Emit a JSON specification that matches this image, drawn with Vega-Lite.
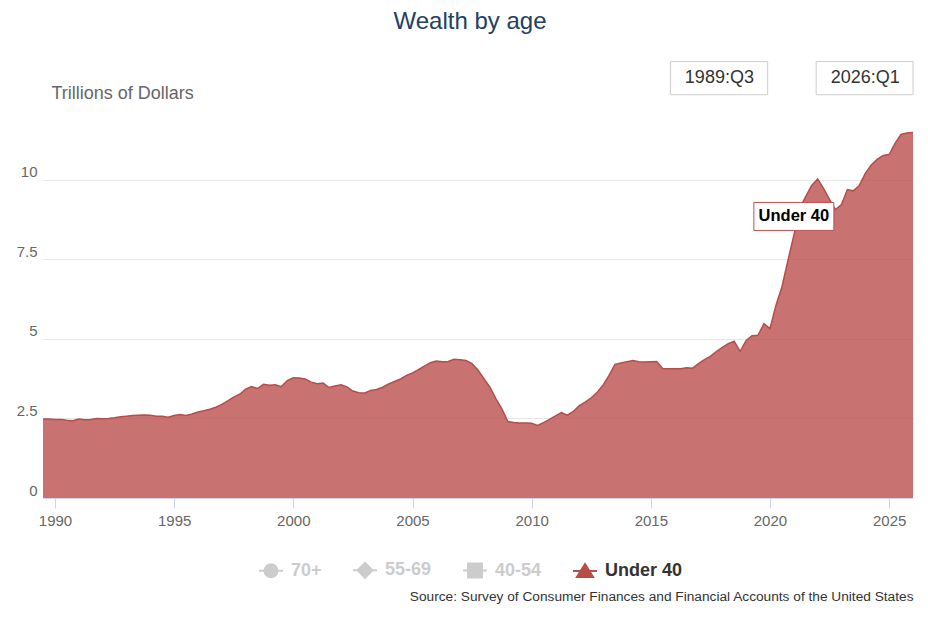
{
  "$schema": "https://vega.github.io/schema/vega-lite/v6.json",
  "width": 870,
  "height": 388,
  "autosize": "none",
  "padding": {"left": 43, "top": 110, "right": 15, "bottom": 119},
  "config": {"font": "Liberation Sans", "view": {"stroke": null}},
  "title": {
    "text": "Wealth by age",
    "frame": "group",
    "anchor": "middle",
    "baseline": "alphabetic",
    "offset": 8,
    "dx": -8,
    "fontSize": 24,
    "fontWeight": "normal",
    "color": "#23405f"
  },
  "datasets": {
    "wealth": [
      {"date": "1989-07-01", "value": 2.48}, {"date": "1989-10-01", "value": 2.48},
      {"date": "1990-01-01", "value": 2.47}, {"date": "1990-04-01", "value": 2.47},
      {"date": "1990-07-01", "value": 2.44}, {"date": "1990-10-01", "value": 2.43},
      {"date": "1991-01-01", "value": 2.48}, {"date": "1991-04-01", "value": 2.46},
      {"date": "1991-07-01", "value": 2.47}, {"date": "1991-10-01", "value": 2.50},
      {"date": "1992-01-01", "value": 2.49}, {"date": "1992-04-01", "value": 2.50},
      {"date": "1992-07-01", "value": 2.52}, {"date": "1992-10-01", "value": 2.55},
      {"date": "1993-01-01", "value": 2.57}, {"date": "1993-04-01", "value": 2.59},
      {"date": "1993-07-01", "value": 2.60}, {"date": "1993-10-01", "value": 2.61},
      {"date": "1994-01-01", "value": 2.60}, {"date": "1994-04-01", "value": 2.57},
      {"date": "1994-07-01", "value": 2.57}, {"date": "1994-10-01", "value": 2.54},
      {"date": "1995-01-01", "value": 2.59}, {"date": "1995-04-01", "value": 2.62},
      {"date": "1995-07-01", "value": 2.59}, {"date": "1995-10-01", "value": 2.64},
      {"date": "1996-01-01", "value": 2.70}, {"date": "1996-04-01", "value": 2.74},
      {"date": "1996-07-01", "value": 2.79}, {"date": "1996-10-01", "value": 2.85},
      {"date": "1997-01-01", "value": 2.94}, {"date": "1997-04-01", "value": 3.05},
      {"date": "1997-07-01", "value": 3.17}, {"date": "1997-10-01", "value": 3.26},
      {"date": "1998-01-01", "value": 3.42}, {"date": "1998-04-01", "value": 3.50},
      {"date": "1998-07-01", "value": 3.44}, {"date": "1998-10-01", "value": 3.57},
      {"date": "1999-01-01", "value": 3.54}, {"date": "1999-04-01", "value": 3.56},
      {"date": "1999-07-01", "value": 3.50}, {"date": "1999-10-01", "value": 3.69},
      {"date": "2000-01-01", "value": 3.78}, {"date": "2000-04-01", "value": 3.77},
      {"date": "2000-07-01", "value": 3.74}, {"date": "2000-10-01", "value": 3.64},
      {"date": "2001-01-01", "value": 3.59}, {"date": "2001-04-01", "value": 3.61},
      {"date": "2001-07-01", "value": 3.47}, {"date": "2001-10-01", "value": 3.52},
      {"date": "2002-01-01", "value": 3.56}, {"date": "2002-04-01", "value": 3.49},
      {"date": "2002-07-01", "value": 3.36}, {"date": "2002-10-01", "value": 3.31},
      {"date": "2003-01-01", "value": 3.30}, {"date": "2003-04-01", "value": 3.38},
      {"date": "2003-07-01", "value": 3.41}, {"date": "2003-10-01", "value": 3.48},
      {"date": "2004-01-01", "value": 3.58}, {"date": "2004-04-01", "value": 3.66},
      {"date": "2004-07-01", "value": 3.74}, {"date": "2004-10-01", "value": 3.85},
      {"date": "2005-01-01", "value": 3.93}, {"date": "2005-04-01", "value": 4.03},
      {"date": "2005-07-01", "value": 4.14}, {"date": "2005-10-01", "value": 4.25},
      {"date": "2006-01-01", "value": 4.30}, {"date": "2006-04-01", "value": 4.28},
      {"date": "2006-07-01", "value": 4.29}, {"date": "2006-10-01", "value": 4.36},
      {"date": "2007-01-01", "value": 4.34}, {"date": "2007-04-01", "value": 4.32},
      {"date": "2007-07-01", "value": 4.22}, {"date": "2007-10-01", "value": 4.02},
      {"date": "2008-01-01", "value": 3.75}, {"date": "2008-04-01", "value": 3.48},
      {"date": "2008-07-01", "value": 3.12}, {"date": "2008-10-01", "value": 2.80},
      {"date": "2009-01-01", "value": 2.40}, {"date": "2009-04-01", "value": 2.37},
      {"date": "2009-07-01", "value": 2.36}, {"date": "2009-10-01", "value": 2.36},
      {"date": "2010-01-01", "value": 2.35}, {"date": "2010-04-01", "value": 2.28},
      {"date": "2010-07-01", "value": 2.37}, {"date": "2010-10-01", "value": 2.47},
      {"date": "2011-01-01", "value": 2.58}, {"date": "2011-04-01", "value": 2.68},
      {"date": "2011-07-01", "value": 2.60}, {"date": "2011-10-01", "value": 2.72},
      {"date": "2012-01-01", "value": 2.90}, {"date": "2012-04-01", "value": 3.01},
      {"date": "2012-07-01", "value": 3.15}, {"date": "2012-10-01", "value": 3.32},
      {"date": "2013-01-01", "value": 3.55}, {"date": "2013-04-01", "value": 3.85},
      {"date": "2013-07-01", "value": 4.20}, {"date": "2013-10-01", "value": 4.24},
      {"date": "2014-01-01", "value": 4.28}, {"date": "2014-04-01", "value": 4.32},
      {"date": "2014-07-01", "value": 4.28}, {"date": "2014-10-01", "value": 4.27},
      {"date": "2015-01-01", "value": 4.28}, {"date": "2015-04-01", "value": 4.29},
      {"date": "2015-07-01", "value": 4.07}, {"date": "2015-10-01", "value": 4.06},
      {"date": "2016-01-01", "value": 4.06}, {"date": "2016-04-01", "value": 4.06},
      {"date": "2016-07-01", "value": 4.09}, {"date": "2016-10-01", "value": 4.08},
      {"date": "2017-01-01", "value": 4.22}, {"date": "2017-04-01", "value": 4.35},
      {"date": "2017-07-01", "value": 4.45}, {"date": "2017-10-01", "value": 4.60},
      {"date": "2018-01-01", "value": 4.73}, {"date": "2018-04-01", "value": 4.85},
      {"date": "2018-07-01", "value": 4.93}, {"date": "2018-10-01", "value": 4.61},
      {"date": "2019-01-01", "value": 4.95}, {"date": "2019-04-01", "value": 5.10},
      {"date": "2019-07-01", "value": 5.11}, {"date": "2019-10-01", "value": 5.48},
      {"date": "2020-01-01", "value": 5.32}, {"date": "2020-04-01", "value": 6.05},
      {"date": "2020-07-01", "value": 6.62}, {"date": "2020-10-01", "value": 7.45},
      {"date": "2021-01-01", "value": 8.25}, {"date": "2021-04-01", "value": 9.10},
      {"date": "2021-07-01", "value": 9.47}, {"date": "2021-10-01", "value": 9.82},
      {"date": "2022-01-01", "value": 10.02}, {"date": "2022-04-01", "value": 9.73},
      {"date": "2022-07-01", "value": 9.38}, {"date": "2022-10-01", "value": 9.06},
      {"date": "2023-01-01", "value": 9.22}, {"date": "2023-04-01", "value": 9.69},
      {"date": "2023-07-01", "value": 9.65}, {"date": "2023-10-01", "value": 9.82},
      {"date": "2024-01-01", "value": 10.20}, {"date": "2024-04-01", "value": 10.46},
      {"date": "2024-07-01", "value": 10.64}, {"date": "2024-10-01", "value": 10.76},
      {"date": "2025-01-01", "value": 10.79}, {"date": "2025-04-01", "value": 11.14},
      {"date": "2025-07-01", "value": 11.42}, {"date": "2025-10-01", "value": 11.47},
      {"date": "2026-01-01", "value": 11.48}
    ],
    "seriesLabel": [
      {"date": "2021-01-01", "value": 8.25, "label": "Under 40"}
    ],
    "rangeBoxes": [
      {"label": "1989:Q3", "start": "2015-10-28", "end": "2019-11-27", "top": 13.71, "bottom": 12.67},
      {"label": "2026:Q1", "start": "2021-12-09", "end": "2026-01-01", "top": 13.71, "bottom": 12.67}
    ]
  },
  "layer": [
    {
      "data": {"name": "wealth"},
      "mark": {"type": "area", "fillOpacity": 0.78, "line": {"strokeWidth": 1.5}},
      "encoding": {
        "x": {
          "field": "date",
          "type": "temporal",
          "scale": {
            "type": "utc",
            "nice": false,
            "domain": [
              {"year": 1989, "month": 7, "date": 1, "utc": true},
              {"year": 2026, "month": 1, "date": 1, "utc": true}
            ]
          },
          "axis": {
            "values": [
              {"year": 1990, "utc": true}, {"year": 1995, "utc": true},
              {"year": 2000, "utc": true}, {"year": 2005, "utc": true},
              {"year": 2010, "utc": true}, {"year": 2015, "utc": true},
              {"year": 2020, "utc": true}, {"year": 2025, "utc": true}
            ],
            "format": "%Y",
            "grid": false,
            "labelFlush": false,
            "labelFontSize": 15,
            "labelColor": "#666666",
            "labelPadding": 5,
            "tickColor": "#ccd6eb",
            "tickSize": 10,
            "domainColor": "#ccd6eb",
            "title": "Source: Survey of Consumer Finances and Financial Accounts of the United States",
            "titleAnchor": "end",
            "titleAlign": "right",
            "titleX": 870,
            "titleY": 98,
            "titleBaseline": "middle",
            "titleFontSize": 13.7,
            "titleFontWeight": "normal",
            "titleColor": "#333333"
          }
        },
        "y": {
          "field": "value",
          "type": "quantitative",
          "scale": {"domain": [0, 12.19], "nice": false, "zero": true},
          "axis": {
            "values": [0, 2.5, 5, 7.5, 10],
            "format": "~g",
            "domain": false,
            "ticks": false,
            "gridColor": "#e6e6e6",
            "labelFontSize": 15,
            "labelColor": "#666666",
            "labelPadding": 6,
            "labelBaseline": "alphabetic",
            "labelOffset": -3,
            "title": "Trillions of Dollars",
            "titleAngle": 0,
            "titleAlign": "left",
            "titleBaseline": "middle",
            "titleX": 8,
            "titleY": -17,
            "titleFontSize": 18,
            "titleFontWeight": "normal",
            "titleColor": "#666666"
          }
        },
        "color": {
          "datum": "Under 40",
          "type": "nominal",
          "scale": {
            "domain": ["70+", "55-69", "40-54", "Under 40"],
            "range": ["#cccccc", "#cccccc", "#cccccc", "#b84c49"]
          },
          "legend": {
            "title": null,
            "orient": "none",
            "direction": "horizontal",
            "legendX": 215,
            "legendY": 447,
            "symbolSize": 576,
            "symbolStrokeWidth": 2,
            "labelFontSize": 18,
            "labelFontWeight": "bold",
            "labelOffset": 7,
            "columnPadding": 27,
            "encode": {
              "symbols": {
                "update": {
                  "shape": {"signal": "datum.value === '70+' ? 'M-1,0L1,0M-0.54,0A0.54,0.54 0 1,1 0.54,0A0.54,0.54 0 1,1 -0.54,0Z' : datum.value === '55-69' ? 'M-1,0L1,0M0,-0.62L0.62,0L0,0.62L-0.62,0Z' : datum.value === '40-54' ? 'M-1,0L1,0M-0.58,-0.58L0.58,-0.58L0.58,0.58L-0.58,0.58Z' : 'M-1,0L1,0M0,-0.58L0.67,0.5L-0.67,0.5Z'"},
                  "fill": {"signal": "datum.value === 'Under 40' ? '#c0504d' : '#cccccc'"},
                  "stroke": {"signal": "datum.value === 'Under 40' ? '#c0504d' : '#cccccc'"},
                  "strokeWidth": {"value": 2},
                  "opacity": {"value": 1},
                  "fillOpacity": {"value": 1}
                }
              },
              "labels": {
                "update": {
                  "fill": {"signal": "datum.value === 'Under 40' ? '#333333' : '#cccccc'"}
                }
              }
            }
          }
        }
      }
    },
    {
      "data": {"name": "seriesLabel"},
      "mark": {
        "type": "point",
        "shape": "M-1,-0.35L1,-0.35L1,0.35L-1,0.35Z",
        "size": 6400,
        "filled": true,
        "fill": "#ffffff",
        "stroke": "#c0504d",
        "strokeWidth": 1,
        "opacity": 1,
        "yOffset": -19
      },
      "encoding": {
        "x": {"field": "date", "type": "temporal"},
        "y": {"field": "value", "type": "quantitative"}
      }
    },
    {
      "data": {"name": "seriesLabel"},
      "mark": {
        "type": "text",
        "fontSize": 16.5,
        "fontWeight": "bold",
        "color": "#000000",
        "align": "center",
        "baseline": "middle",
        "yOffset": -19
      },
      "encoding": {
        "x": {"field": "date", "type": "temporal"},
        "y": {"field": "value", "type": "quantitative"},
        "text": {"field": "label"}
      }
    },
    {
      "data": {"name": "rangeBoxes"},
      "mark": {"type": "rect", "fill": "#ffffff", "stroke": "#cccccc", "strokeWidth": 1},
      "encoding": {
        "x": {"field": "start", "type": "temporal"},
        "x2": {"field": "end"},
        "y": {"field": "top", "type": "quantitative"},
        "y2": {"field": "bottom"}
      }
    },
    {
      "data": {"name": "rangeBoxes"},
      "mark": {
        "type": "text",
        "fontSize": 18,
        "color": "#333333",
        "align": "center",
        "baseline": "middle",
        "xOffset": 49,
        "yOffset": 16.5
      },
      "encoding": {
        "x": {"field": "start", "type": "temporal"},
        "y": {"field": "top", "type": "quantitative"},
        "text": {"field": "label"}
      }
    }
  ]
}
